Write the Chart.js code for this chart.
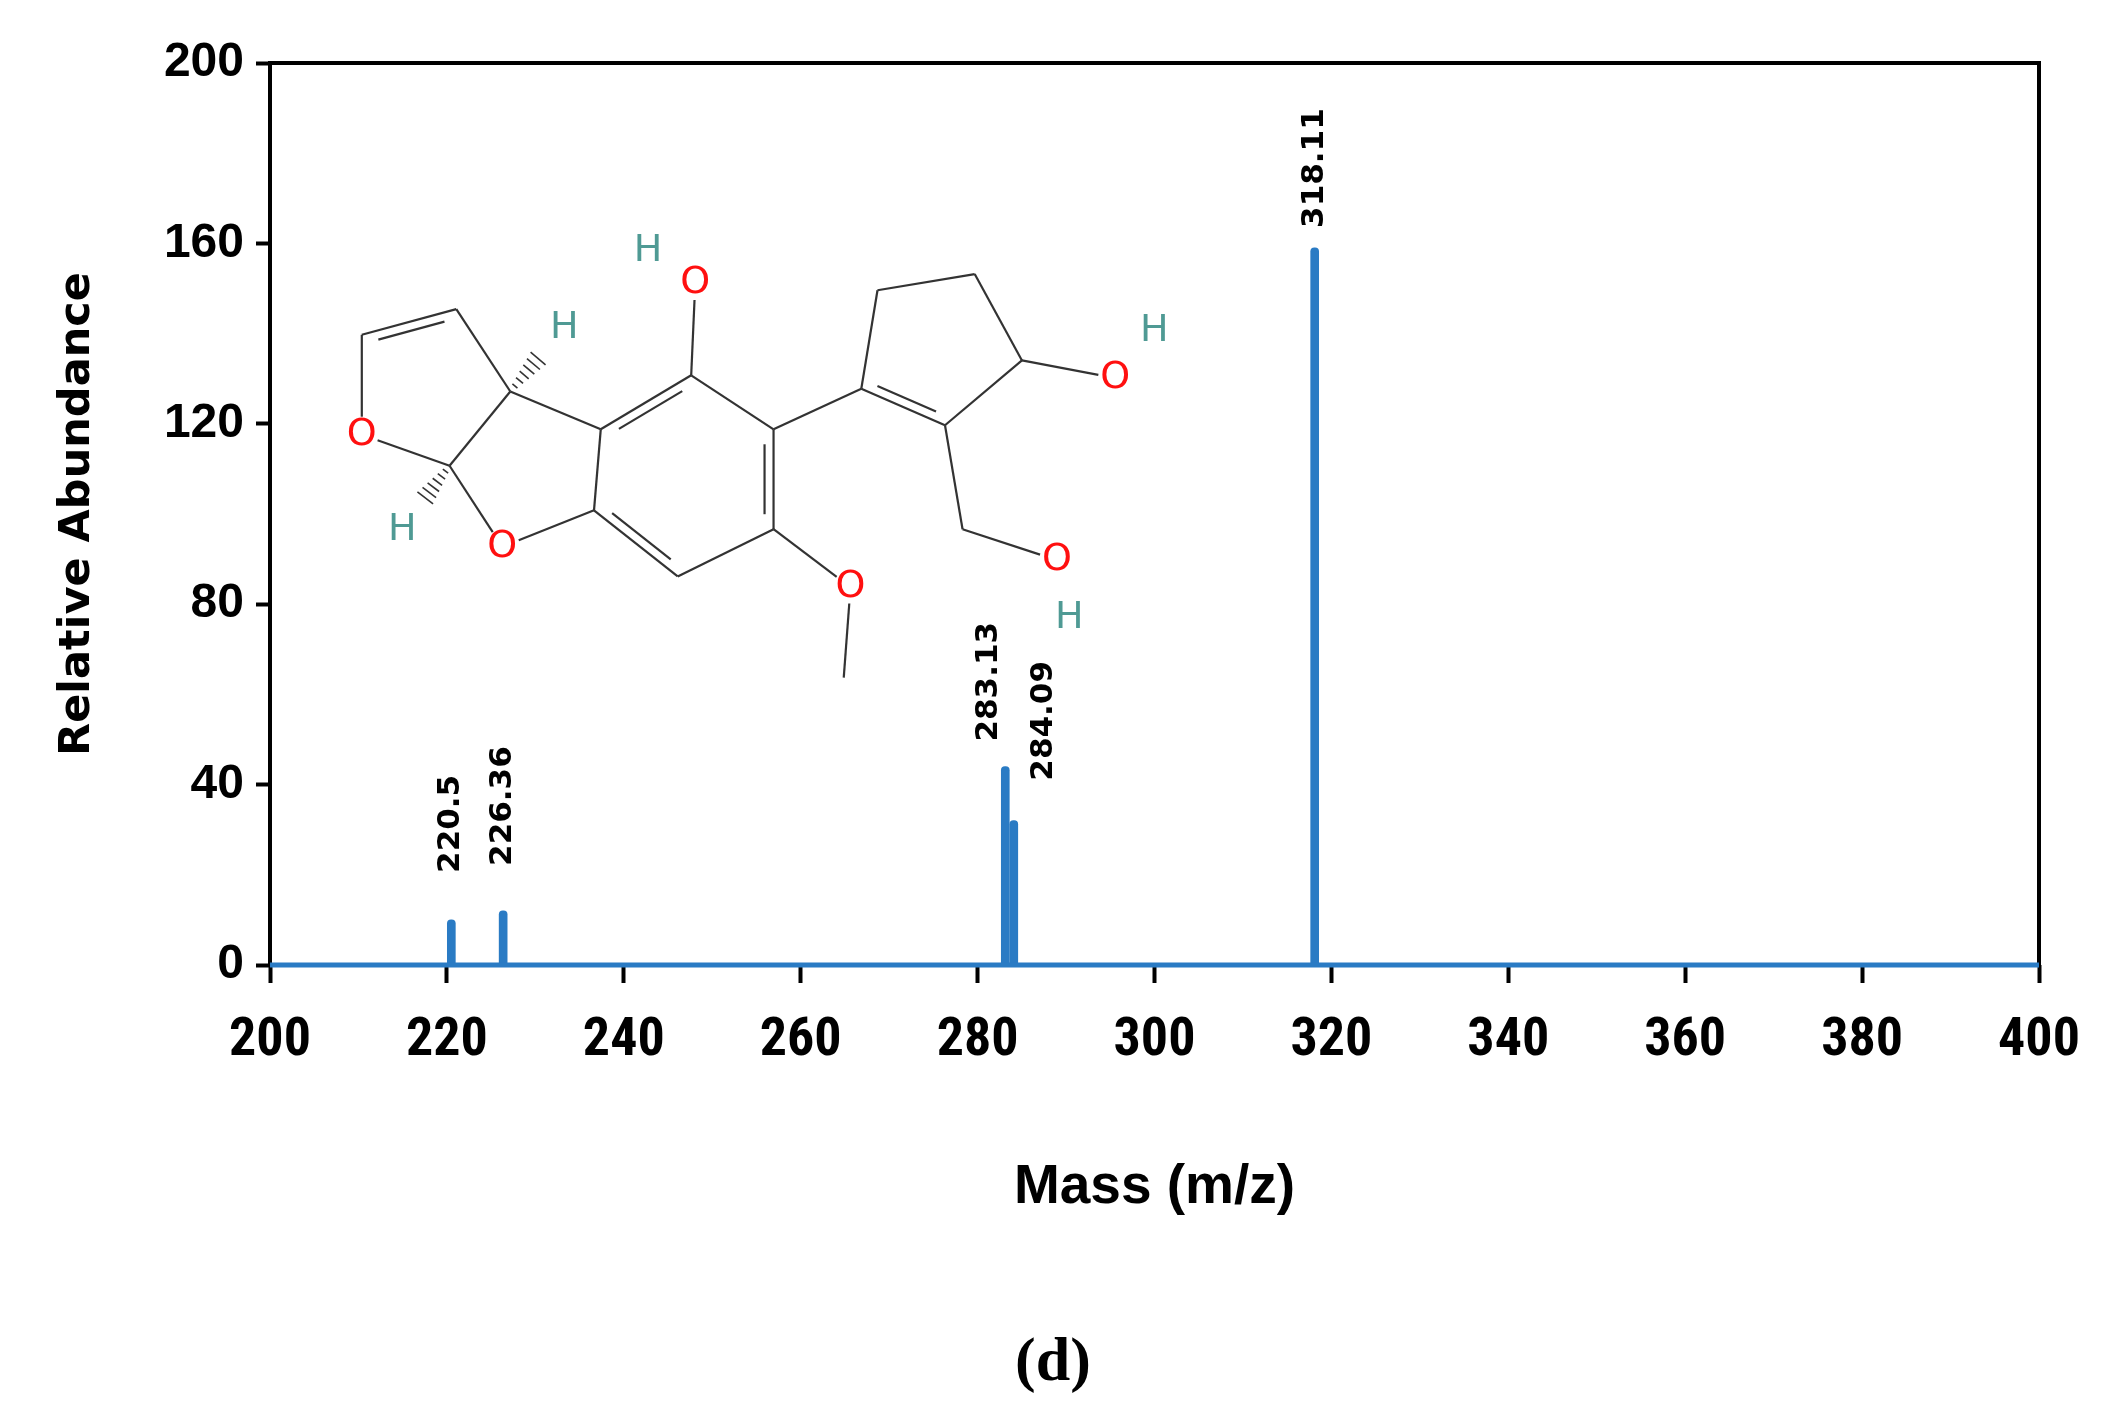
<!DOCTYPE html>
<html><head><meta charset="utf-8">
<script src="https://cdn.jsdelivr.net/npm/chart.js@4.4.0/dist/chart.umd.min.js"></script>
<style>html,body{margin:0;background:#fff}#w{position:relative;width:2117px;height:1426px}</style>
</head><body><div id="w"><canvas id="c" width="2117" height="1426"></canvas></div>
<script>
const peakMasses = [220.5, 226.36, 283.13, 284.09, 318.11];
const peakAbund = [10, 12, 44, 32, 159];
const peakLabels = ["220.5", "226.36", "283.13", "284.09", "318.11"];
const xTicks = [200,220,240,260,280,300,320,340,360,380,400];
const yTicks = [0,40,80,120,160,200];
const BLUE = '#2a7bc4';
const S = 1.35;

const struct = {
  id:'struct',
  afterDraw(ch){
    const c = ch.ctx; c.save();
    const P = {A:[268,248],B:[338,229],C:[378,290],D:[333,345],O1:[268,322],O2:[372,405],
      E:[440,378],F:[445,318],G:[512,278],H:[573,318],I:[573,392],J:[502,427],
      OG:[515,210],K:[638,288],L:[650,215],M:[722,203],N:[757,267],Pp:[700,315],
      ON:[826,280],Q:[713,392],OQ:[783,415],OI:[630,435],Me:[625,502]};
    const p = k => [P[k][0]*S, P[k][1]*S];
    c.strokeStyle='#333'; c.lineWidth=2.2;
    const bond=(a,b,sh)=>{const [x1,y1]=p(a),[x2,y2]=p(b);
      let sx=x1,sy=y1,ex=x2,ey=y2;
      if(a[0]==='O'){sx=x1+(x2-x1)*0.18;sy=y1+(y2-y1)*0.18;}
      if(b[0]==='O'){ex=x2-(x2-x1)*0.18;ey=y2-(y2-y1)*0.18;}
      c.beginPath();c.moveTo(sx,sy);c.lineTo(ex,ey);c.stroke();
      if(sh){const dx=x2-x1,dy=y2-y1,l=Math.hypot(dx,dy),nx=-dy/l*9*sh,ny=dx/l*9*sh;
        c.beginPath();c.moveTo(x1+dx*0.15+nx,y1+dy*0.15+ny);c.lineTo(x2-dx*0.15+nx,y2-dy*0.15+ny);c.stroke();}};
    [['A','B',1],['B','C'],['C','D'],['D','O1'],['O1','A'],['D','O2'],['O2','E'],['E','F'],['F','C'],
     ['F','G',1],['G','H'],['H','I',1],['I','J'],['J','E',1],['G','OG'],['H','K'],
     ['K','L'],['L','M'],['M','N'],['N','Pp'],['Pp','K',1],['N','ON'],['Pp','Q'],['Q','OQ'],['I','OI'],['OI','Me']
    ].forEach(b=>bond(b[0],b[1],b[2]));
    const hash=(a,hx,hy)=>{const [x1,y1]=p(a);const x2=hx*S,y2=hy*S;
      for(let i=1;i<=6;i++){const t=i/7*0.75;const cx=x1+(x2-x1)*t,cy=y1+(y2-y1)*t;
        const dx=x2-x1,dy=y2-y1,l=Math.hypot(dx,dy),w=2+i*1.3;
        c.beginPath();c.moveTo(cx-dy/l*w,cy+dx/l*w);c.lineTo(cx+dy/l*w,cy-dx/l*w);c.stroke();}};
    c.lineWidth=1.6; hash('C',410,252); hash('D',305,382);
    c.textAlign='center';c.textBaseline='middle';
    c.font='38px "DejaVu Sans", sans-serif';
    c.fillStyle='#ff1010';
    [[268,322],[372,405],[515,210],[826,280],[783,415],[630,435]].forEach(q=>c.fillText('O',q[0]*S,q[1]*S));
    c.fillStyle='#4f9a94';
    [[480,186],[418,243],[298,393],[855,245],[792,458]].forEach(q=>c.fillText('H',q[0]*S,q[1]*S));
    c.restore();
  }
};
const labelDx = [0, 0, -16, 30, 0];
const labelGap = [47, 45, 25, 40, 20];
const labelsPlugin = {
  id:'peaklabels',
  afterDatasetsDraw(ch){
    const c=ch.ctx, xs=ch.scales.x, ys=ch.scales.y;
    c.save(); c.fillStyle='#000'; c.font='bold 31px "DejaVu Sans", sans-serif';
    c.textAlign='left'; c.textBaseline='middle';
    peakMasses.forEach((m,i)=>{
      const x=xs.getPixelForValue(m)+labelDx[i]; const y=ys.getPixelForValue(peakAbund[i]);
      c.save(); c.translate(x, y-labelGap[i]); c.rotate(-Math.PI/2);
      c.fillText(peakLabels[i],0,0); c.restore();
    });
    const a=ch.chartArea; c.strokeStyle='#000'; c.lineWidth=4;
    c.beginPath(); c.moveTo(a.left,a.bottom); c.lineTo(a.left,a.top); c.lineTo(a.right,a.top); c.lineTo(a.right,a.bottom); c.stroke();
    c.strokeStyle=BLUE; c.lineWidth=5; c.beginPath(); c.moveTo(a.left,a.bottom); c.lineTo(a.right,a.bottom); c.stroke();
    c.fillStyle='#000'; c.textAlign='center'; c.font='bold 62px "Liberation Serif", serif';
    c.fillText('(d)', 1053, 1364);
    c.restore();
  }
};
new Chart(document.getElementById('c'),{
  type:'bar',
  data:{datasets:[{data:peakMasses.map((m,i)=>({x:m,y:peakAbund[i]})),backgroundColor:BLUE,barThickness:8,borderRadius:4,borderSkipped:'bottom'}]},
  options:{responsive:false,animation:false,
    layout:{padding:{left:0,right:78,top:63,bottom:0}},
    plugins:{legend:{display:false},tooltip:{enabled:false}},
    scales:{
      x:{type:'linear',min:200,max:400,offset:false,afterBuildTicks:s=>{s.ticks=xTicks.map(v=>({value:v}))},
        afterFit:s=>{s.height=461},
        grid:{display:true,offset:false,drawTicks:true,tickLength:18,tickColor:'#000',tickWidth:4,drawOnChartArea:false},
        border:{display:false},
        ticks:{color:'#000',padding:26,maxRotation:0,font:{size:54,weight:'bold',family:'"Liberation Sans Narrow","Roboto Condensed",sans-serif'}},
        title:{display:true,text:'Mass (m/z)',color:'#000',padding:{top:90,bottom:205},font:{size:55,weight:'bold',family:'"Liberation Sans Narrow",sans-serif'}}},
      y:{min:0,max:200,afterBuildTicks:s=>{s.ticks=yTicks.map(v=>({value:v}))},
        afterFit:s=>{s.width=270},
        grid:{display:true,drawTicks:true,tickLength:14,tickColor:'#000',tickWidth:4,drawOnChartArea:false},
        border:{display:false},
        ticks:{color:'#000',padding:12,font:{size:48,weight:'bold',family:'"Liberation Sans Narrow",sans-serif'}},
        title:{display:true,text:'Relative Abundance',color:'#000',padding:{top:52,bottom:28},font:{size:43,weight:'bold',family:'"DejaVu Sans",sans-serif'}}}
    }},
  plugins:[struct,labelsPlugin]
});
</script></body></html>
